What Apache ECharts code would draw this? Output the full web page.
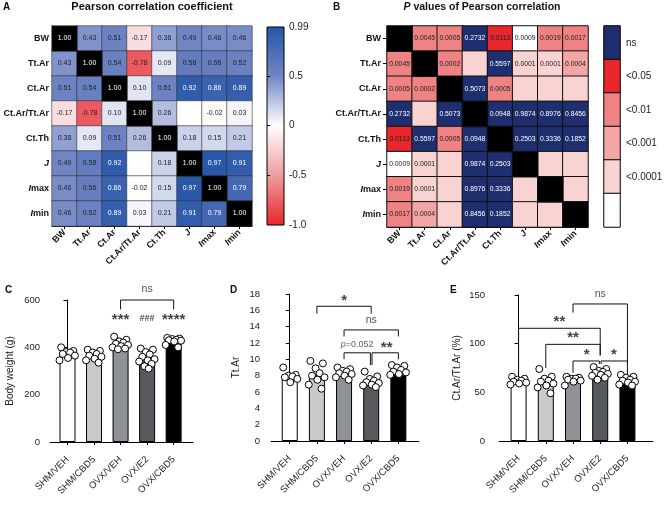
<!DOCTYPE html>
<html>
<head>
<meta charset="utf-8">
<script src="https://cdn.jsdelivr.net/npm/echarts@6.0.0/dist/echarts.min.js"></script>
<style>
html, body { margin: 0; padding: 0; background: #fff; }
#charts { width: 666px; height: 505px; }
</style>
</head>
<body>
<div id="charts"></div>
<script>
var FONT = 'Liberation Sans, Arial, sans-serif';

// ---- panels A and B: correlation matrix ----
var vars = ['BW', 'Tt.Ar', 'Ct.Ar', 'Ct.Ar/Tt.Ar', 'Ct.Th', 'J', 'Imax', 'Imin'];

// Pearson r (null = empty cell)
var rBW    = [1.00, 0.43, 0.51, -0.17, 0.38, 0.49, 0.46, 0.46];
var rTtAr  = [0.43, 1.00, 0.54, -0.78, 0.09, 0.58, 0.56, 0.52];
var rCtAr  = [0.51, 0.54, 1.00, 0.10, 0.51, 0.92, 0.86, 0.89];
var rRatio = [-0.17, -0.78, 0.10, 1.00, 0.26, null, -0.02, 0.03];
var rCtTh  = [0.38, 0.09, 0.51, 0.26, 1.00, 0.18, 0.15, 0.21];
var rJ     = [0.49, 0.58, 0.92, null, 0.18, 1.00, 0.97, 0.91];
var rImax  = [0.46, 0.56, 0.86, -0.02, 0.15, 0.97, 1.00, 0.79];
var rImin  = [0.46, 0.52, 0.89, 0.03, 0.21, 0.91, 0.79, 1.00];
var corrRows = [rBW, rTtAr, rCtAr, rRatio, rCtTh, rJ, rImax, rImin];
var rTicks = [0.99, 0.5, 0, -0.5, -1.0];

// P values as printed ('' = no text)
var pBW    = ['', '0.0045', '0.0005', '0.2732', '0.0113', '0.0009', '0.0019', '0.0017'];
var pTtAr  = ['0.0045', '', '0.0002', '', '0.5597', '0.0001', '0.0001', '0.0004'];
var pCtAr  = ['0.0005', '0.0002', '', '0.5073', '0.0005', '', '', ''];
var pRatio = ['0.2732', '', '0.5073', '', '0.0948', '0.9874', '0.8976', '0.8456'];
var pCtTh  = ['0.0113', '0.5597', '0.0005', '0.0948', '', '0.2503', '0.3336', '0.1852'];
var pJ     = ['0.0009', '0.0001', '', '0.9874', '0.2503', '', '', ''];
var pImax  = ['0.0019', '0.0001', '', '0.8976', '0.3336', '', '', ''];
var pImin  = ['0.0017', '0.0004', '', '0.8456', '0.1852', '', '', ''];
var pRows = [pBW, pTtAr, pCtAr, pRatio, pCtTh, pJ, pImax, pImin];

// colour class of each P cell: 0 blank, 1 <0.0001, 2 <0.001, 3 <0.01, 4 <0.05, 5 ns
var cBW    = [0, 3, 3, 5, 4, 0, 3, 3];
var cTtAr  = [3, 0, 3, 1, 5, 1, 1, 2];
var cCtAr  = [3, 3, 0, 5, 3, 1, 1, 1];
var cRatio = [5, 1, 5, 0, 5, 5, 5, 5];
var cCtTh  = [4, 5, 3, 5, 0, 5, 5, 5];
var cJ     = [0, 1, 1, 5, 5, 0, 1, 1];
var cImax  = [3, 1, 1, 5, 5, 1, 0, 1];
var cImin  = [3, 2, 1, 5, 5, 1, 1, 0];
var classRows = [cBW, cTtAr, cCtAr, cRatio, cCtTh, cJ, cImax, cImin];
var pClassNames = ['ns', '<0.05', '<0.01', '<0.001', '<0.0001', ''];
var pClassLevels = [5, 4, 3, 2, 1, 0];

// ---- panels C, D, E ----
var groups = ['SHM/VEH', 'SHM/CBD5', 'OVX/VEH', 'OVX/E2', 'OVX/CBD5'];

var bwMean = [372, 364, 414, 354, 428];
var bwDots = [
  [400, 385, 380, 378, 372, 365, 355, 345],
  [390, 385, 378, 372, 365, 360, 352, 345, 335],
  [445, 432, 425, 420, 415, 410, 405, 400, 395, 392],
  [395, 390, 380, 370, 360, 350, 345, 340, 330, 320, 310],
  [440, 437, 435, 432, 430, 428, 425, 410, 400]
];

var ttMean = [7.9, 8.1, 8.1, 7.3, 8.6];
var ttDots = [
  [9.0, 8.1, 8.0, 7.9, 7.8, 7.6, 7.2],
  [9.8, 9.5, 8.9, 8.3, 8.0, 7.8, 7.5, 6.9, 6.4],
  [9.0, 8.8, 8.6, 8.5, 8.3, 8.2, 8.0, 7.8, 7.5],
  [8.5, 7.9, 7.6, 7.4, 7.2, 7.1, 6.9, 6.8, 6.6],
  [9.3, 9.2, 9.0, 8.7, 8.5, 8.4, 8.2, 8.1]
];

var ratioMean = [61, 60, 63, 70, 61];
var ratioDots = [
  [66, 64, 63, 62, 61, 60, 59, 58],
  [74, 66, 64, 62, 61, 59, 57, 55, 49],
  [66, 65, 64, 64, 63, 62, 61, 57],
  [76, 74, 72, 71, 70, 69, 68, 67, 65, 63],
  [68, 66, 65, 63, 62, 61, 60, 58, 57]
];

// brackets: [from group, to group, top, left leg end, right leg end]
var bracketsC = [[2, 4, 600, 560, 560]];
var bracketsD = [[1, 3, 16.5, 15.6, 15.6], [2, 4, 13.6, 12.8, 12.8],
                 [2, 2.97, 10.8, 10.0, 9.3], [3.03, 4, 10.8, 9.3, 10.0]];
var bracketsE = [[2, 4, 140.8, 131.9, 80], [0, 3, 115.8, 70, 88], [1, 3, 99.3, 75, 88],
                 [2, 2.97, 82.2, 70, 79], [3.03, 4, 82.2, 79, 68]];

// significance marks: [x in groups, y, text]
var marksC = [[2, 516, '{s|***}'], [3, 520, '{h|###}'], [4, 516, '{s|****}'], [3, 645, '{n|ns}']];
var marksD = [[2, 17.2, '{s|*}'], [3, 14.8, '{n|ns}'], [2.48, 11.8, '{pi|p}{t|=0.052}'], [3.57, 11.4, '{s|**}']];
var marksE = [[3, 151, '{n|ns}'], [1.5, 122, '{s|**}'], [2, 106, '{s|**}'], [2.5, 88, '{s|*}'], [3.5, 88, '{s|*}']];

var barColors = ['#ffffff', '#c9c9c9', '#8f9296', '#56595d', '#000000'];
var jitter = [-0.24, 0.22, -0.05, 0.1, -0.18, 0.28, 0.02, -0.3, 0.17, -0.1, 0.06];

// ---- build heatmap data ----
var heatA = [], diagA = [];
corrRows.forEach(function (row, yi) {
  row.forEach(function (v, xi) {
    if (xi === yi) { diagA.push([xi, yi, v]); return; }
    heatA.push({
      value: [xi, yi, v === null ? 0 : v],
      label: { show: v !== null, color: (v !== null && v > 0.75) ? '#fff' : '#222' }
    });
  });
});

var heatB = [], diagB = [];
pRows.forEach(function (row, yi) {
  row.forEach(function (t, xi) {
    if (xi === yi) { diagB.push([xi, yi, 0]); return; }
    var lv = classRows[yi][xi];
    heatB.push({ name: t, value: [xi, yi, lv], label: { color: lv === 5 ? '#fff' : '#222' } });
  });
});
var cbarB = pClassLevels.map(function (lv, i) { return [0, i, lv]; });

var varRich = {
  it: { fontStyle: 'italic', fontWeight: 'bold', fontSize: 9, fontFamily: FONT, color: '#111' }
};
function varLabel(v) {
  if (v === 'J') return '{it|J}';
  if (v === 'Imax') return '{it|I}max';
  if (v === 'Imin') return '{it|I}min';
  return v;
}

function heatXAxis(gi) {
  return {
    type: 'category', gridIndex: gi, data: vars, position: 'bottom',
    axisLine: { show: true, lineStyle: { color: '#000', width: 1 } },
    axisTick: { show: true, alignWithLabel: true, length: 3, lineStyle: { color: '#000' } },
    axisLabel: { rotate: 45, fontSize: 9, fontWeight: 'bold', color: '#111', fontFamily: FONT,
                 margin: 5, interval: 0, formatter: varLabel, rich: varRich },
    splitLine: { show: false }
  };
}
function heatYAxis(gi, ticks) {
  return {
    type: 'category', gridIndex: gi, data: vars, inverse: true,
    axisLine: { show: true, lineStyle: { color: '#000', width: 1 } },
    axisTick: { show: ticks, alignWithLabel: true, length: 4, lineStyle: { color: '#000' } },
    axisLabel: { fontSize: 9, fontWeight: 'bold', color: '#111', fontFamily: FONT,
                 margin: ticks ? 6 : 3, interval: 0, formatter: varLabel, rich: varRich },
    splitLine: { show: false }
  };
}

// ---- bar panels ----
function barX(gi, xmin, xmax) {
  return {
    type: 'value', gridIndex: gi, min: xmin, max: xmax, offset: 12,
    axisLine: { show: true, lineStyle: { color: '#000', width: 1 } },
    axisTick: { show: true, length: 3, customValues: [0, 1, 2, 3, 4], lineStyle: { color: '#000' } },
    axisLabel: { customValues: [0, 1, 2, 3, 4], rotate: 45, fontSize: 9.5, color: '#222', fontFamily: FONT,
                 margin: 4, formatter: function (v) { return groups[Math.round(v)]; } },
    splitLine: { show: false }
  };
}
function barY(gi, ymax, step, name, gap, off) {
  return {
    type: 'value', gridIndex: gi, min: 0, max: ymax, interval: step, offset: off,
    axisLine: { show: true, lineStyle: { color: '#000', width: 1 } },
    axisTick: { show: true, length: 4, lineStyle: { color: '#000' } },
    axisLabel: { fontSize: 9.5, color: '#222', fontFamily: FONT, margin: 3 },
    splitLine: { show: false },
    name: name, nameLocation: 'middle', nameGap: gap,
    nameTextStyle: { fontSize: 10, color: '#222', fontFamily: FONT }
  };
}
function barSeries(ax, means, dots, brackets, marks) {
  var out = [];
  out.push({
    type: 'bar', xAxisIndex: ax, yAxisIndex: ax + 2, barWidth: 16, z: 2,
    itemStyle: { borderColor: '#000', borderWidth: 1 },
    data: means.map(function (m, i) { return { value: [i, m], itemStyle: { color: barColors[i] } }; })
  });
  var pts = [];
  dots.forEach(function (g, i) {
    g.forEach(function (v, k) { pts.push([i + jitter[k % jitter.length], v]); });
  });
  out.push({
    type: 'scatter', xAxisIndex: ax, yAxisIndex: ax + 2, symbolSize: 7, z: 3,
    itemStyle: { color: '#fff', borderColor: '#000', borderWidth: 1, opacity: 1 },
    data: pts
  });
  brackets.forEach(function (b) {
    out.push({
      type: 'line', xAxisIndex: ax, yAxisIndex: ax + 2, symbol: 'none', clip: false, silent: true, z: 4,
      lineStyle: { color: '#111', width: 1 },
      data: [[b[0], b[3]], [b[0], b[2]], [b[1], b[2]], [b[1], b[4]]]
    });
  });
  out.push({
    type: 'scatter', xAxisIndex: ax, yAxisIndex: ax + 2, symbolSize: 1, clip: false, silent: true, z: 5,
    itemStyle: { color: 'rgba(0,0,0,0)' },
    label: {
      show: true, position: 'inside', formatter: '{b}',
      rich: {
        s: { fontSize: 15, fontWeight: 'bold', color: '#111', fontFamily: FONT },
        h: { fontSize: 9, fontWeight: 'bold', color: '#111', fontFamily: FONT },
        n: { fontSize: 10.5, color: '#222', fontFamily: FONT },
        pi: { fontSize: 9, fontStyle: 'italic', color: '#333', fontFamily: FONT },
        t: { fontSize: 9, color: '#333', fontFamily: FONT }
      }
    },
    data: marks.map(function (m) { return { name: m[2], value: [m[0], m[1]] }; })
  });
  return out;
}

var myChart = echarts.init(document.getElementById('charts'), null, { width: 666, height: 505 });

var series = [
  {
    type: 'heatmap', xAxisIndex: 0, yAxisIndex: 0, data: heatA,
    itemStyle: { borderColor: '#333', borderWidth: 0.6 },
    label: { show: true, fontSize: 7, fontFamily: FONT,
             formatter: function (p) { return p.value[2].toFixed(2); } }
  },
  {
    type: 'heatmap', xAxisIndex: 0, yAxisIndex: 0, data: diagA,
    itemStyle: { color: '#000', borderColor: '#333', borderWidth: 0.6 },
    label: { show: true, fontSize: 7, color: '#fff', fontFamily: FONT,
             formatter: function (p) { return p.value[2].toFixed(2); } }
  },
  { type: 'scatter', xAxisIndex: 1, yAxisIndex: 1, data: [] },
  {
    type: 'heatmap', xAxisIndex: 2, yAxisIndex: 3, data: heatB,
    itemStyle: { borderColor: '#111', borderWidth: 1 },
    label: { show: true, fontSize: 6.8, fontFamily: FONT, formatter: '{b}' }
  },
  {
    type: 'heatmap', xAxisIndex: 2, yAxisIndex: 3, data: diagB,
    itemStyle: { color: '#000', borderColor: '#111', borderWidth: 1 }
  },
  {
    type: 'heatmap', xAxisIndex: 3, yAxisIndex: 4, data: cbarB,
    itemStyle: { borderColor: '#000', borderWidth: 1 }
  }
];
series = series.concat(
  barSeries(4, bwMean, bwDots, bracketsC, marksC),
  barSeries(5, ttMean, ttDots, bracketsD, marksD),
  barSeries(6, ratioMean, ratioDots, bracketsE, marksE)
);

var option = {
  animation: false,
  backgroundColor: '#fff',
  textStyle: { fontFamily: FONT },
  graphic: [
    { type: 'text', style: { x: 3, y: 7, text: 'A', fill: '#111', fontSize: 10, fontWeight: 'bold', fontFamily: FONT, verticalAlign: 'middle' } },
    { type: 'text', style: { x: 152, y: 7, text: 'Pearson correlation coefficient', fill: '#111', fontSize: 11, fontWeight: 'bold', fontFamily: FONT, align: 'center', verticalAlign: 'middle' } },
    { type: 'text', style: { x: 333, y: 7, text: 'B', fill: '#111', fontSize: 10, fontWeight: 'bold', fontFamily: FONT, verticalAlign: 'middle' } },
    { type: 'text', style: { x: 482, y: 7, text: '{i|P} values of Pearson correlation', fill: '#111', fontSize: 10.5, fontWeight: 'bold', fontFamily: FONT, align: 'center', verticalAlign: 'middle',
      rich: { i: { fontStyle: 'italic', fontWeight: 'bold', fontSize: 10.5, fontFamily: FONT, fill: '#111' } } } },
    { type: 'text', style: { x: 5, y: 290, text: 'C', fill: '#111', fontSize: 10, fontWeight: 'bold', fontFamily: FONT, verticalAlign: 'middle' } },
    { type: 'text', style: { x: 230, y: 290, text: 'D', fill: '#111', fontSize: 10, fontWeight: 'bold', fontFamily: FONT, verticalAlign: 'middle' } },
    { type: 'text', style: { x: 450, y: 290, text: 'E', fill: '#111', fontSize: 10, fontWeight: 'bold', fontFamily: FONT, verticalAlign: 'middle' } }
  ],
  grid: [
    { left: 52, top: 26, width: 200, height: 200 },
    { left: 267, top: 27, width: 17, height: 198, show: true, borderColor: '#000', borderWidth: 1,
      backgroundColor: { type: 'linear', x: 0, y: 0, x2: 0, y2: 1, colorStops: [
        { offset: 0, color: '#2656a8' }, { offset: 0.246, color: '#7084c4' },
        { offset: 0.4975, color: '#ffffff' }, { offset: 0.749, color: '#f09c9f' },
        { offset: 1, color: '#e8242a' } ] } },
    { left: 387, top: 26, width: 201, height: 201 },
    { left: 604, top: 26, width: 16, height: 201 },
    { left: 50, top: 300, width: 143, height: 142 },
    { left: 271, top: 294, width: 148, height: 147 },
    { left: 499, top: 295, width: 154, height: 146 }
  ],
  xAxis: [
    heatXAxis(0),
    { type: 'value', gridIndex: 1, show: false, min: 0, max: 1 },
    heatXAxis(2),
    { type: 'category', gridIndex: 3, data: [''], show: false },
    barX(4, -0.66, 4.73),
    barX(5, -0.69, 4.76),
    barX(6, -0.72, 4.94)
  ],
  yAxis: [
    heatYAxis(0, false),
    { type: 'value', gridIndex: 1, min: -1, max: 0.99, position: 'left',
      axisLine: { show: false },
      axisTick: { show: true, inside: true, length: 3, customValues: [0.5, 0, -0.5], lineStyle: { color: '#000' } },
      axisLabel: { show: false }, splitLine: { show: false } },
    { type: 'value', gridIndex: 1, min: -1, max: 0.99, position: 'right',
      axisLine: { show: false }, axisTick: { show: false }, splitLine: { show: false },
      axisLabel: { customValues: rTicks, fontSize: 10, color: '#222', fontFamily: FONT, margin: 5,
                   formatter: function (v) { return v === -1 ? '-1.0' : String(v); } } },
    heatYAxis(2, true),
    { type: 'category', gridIndex: 3, data: pClassNames, inverse: true, position: 'left',
      axisLine: { show: false },
      axisTick: { show: true, inside: true, alignWithLabel: true, length: 3, lineStyle: { color: '#000' } },
      axisLabel: { show: false }, splitLine: { show: false } },
    { type: 'category', gridIndex: 3, data: pClassNames, inverse: true, position: 'right',
      axisLine: { show: false }, axisTick: { show: false }, splitLine: { show: false },
      axisLabel: { fontSize: 10, color: '#222', fontFamily: FONT, margin: 6, interval: 0 } },
    barY(4, 600, 200, 'Body weight (g)', 28, 7),
    barY(5, 18, 2, 'Tt.Ar', 22, 8),
    barY(6, 150, 50, 'Ct.Ar/Tt.Ar (%)', 26, 11)
  ],
  visualMap: [
    { type: 'continuous', seriesIndex: 0, min: -1, max: 0.99, show: false, dimension: 2,
      inRange: { color: ['#e8242a', '#f09c9f', '#ffffff', '#7084c4', '#2656a8'] } },
    { type: 'piecewise', seriesIndex: [3, 5], show: false, dimension: 2,
      pieces: [
        { value: 0, color: '#ffffff' }, { value: 1, color: '#f9d2d2' },
        { value: 2, color: '#f4a6a6' }, { value: 3, color: '#ef8282' },
        { value: 4, color: '#e8262b' }, { value: 5, color: '#1f2e6e' }
      ] }
  ],
  series: series
};

myChart.setOption(option);
</script>
</body>
</html>
